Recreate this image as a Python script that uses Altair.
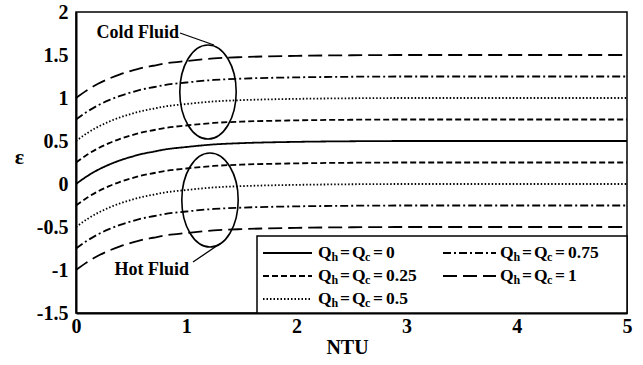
import altair as alt
import pandas as pd

# ---------------- data ----------------
ntu = [0.0, 0.1, 0.2, 0.3, 0.4, 0.5, 0.6, 0.7, 0.8, 1.0, 1.25, 1.5, 2.0, 2.5, 3.0, 4.0, 5.0]

eps_q0 = [0.0, 0.09, 0.165, 0.225, 0.275, 0.315, 0.35, 0.375, 0.40, 0.43, 0.46, 0.475, 0.49, 0.497, 0.5, 0.5, 0.5]

cold_025 = [0.25, 0.34, 0.415, 0.475, 0.525, 0.565, 0.60, 0.625, 0.65, 0.68, 0.71, 0.725, 0.74, 0.747, 0.75, 0.75, 0.75]
cold_05 = [0.5, 0.59, 0.665, 0.725, 0.775, 0.815, 0.85, 0.875, 0.90, 0.93, 0.96, 0.975, 0.99, 0.997, 1.0, 1.0, 1.0]
cold_075 = [0.75, 0.84, 0.915, 0.975, 1.025, 1.065, 1.10, 1.125, 1.15, 1.18, 1.21, 1.225, 1.24, 1.247, 1.25, 1.25, 1.25]
cold_1 = [1.0, 1.09, 1.165, 1.225, 1.275, 1.315, 1.35, 1.375, 1.40, 1.43, 1.46, 1.475, 1.49, 1.497, 1.5, 1.5, 1.5]

hot_025 = [-0.25, -0.16, -0.085, -0.025, 0.025, 0.065, 0.10, 0.125, 0.15, 0.18, 0.21, 0.225, 0.24, 0.247, 0.25, 0.25, 0.25]
hot_05 = [-0.5, -0.41, -0.335, -0.275, -0.225, -0.185, -0.15, -0.125, -0.10, -0.07, -0.04, -0.025, -0.01, -0.003, 0.0, 0.0, 0.0]
hot_075 = [-0.75, -0.66, -0.585, -0.525, -0.475, -0.435, -0.40, -0.375, -0.35, -0.32, -0.29, -0.275, -0.26, -0.253, -0.25, -0.25, -0.25]
hot_1 = [-1.0, -0.91, -0.835, -0.775, -0.725, -0.685, -0.65, -0.625, -0.60, -0.57, -0.54, -0.525, -0.51, -0.503, -0.5, -0.5, -0.5]

q_levels = ["0", "0.25", "0.5", "0.75", "1"]
dash_styles = [[1, 0], [6, 3], [1.5, 2], [8, 3, 2, 3], [14, 6]]
x_ticks = [0, 1, 2, 3, 4, 5]
y_ticks = [-1.5, -1, -0.5, 0, 0.5, 1, 1.5, 2]

FONT = "Liberation Serif"
TICK_SIZE = 20

# ---------------- layout helpers (plot area in pixels) ----------------
PX0, PW, PY0, PH = 76, 551, 12, 301
XMIN, XMAX, YMIN, YMAX = 0, 5, -1.5, 2


def dx(px):
    return XMIN + (px - PX0) / PW * (XMAX - XMIN)


def dy(py):
    return YMAX - (py - PY0) / PH * (YMAX - YMIN)


# ---------------- build tables ----------------
series_list = [
    ("q0", "0", eps_q0),
    ("c025", "0.25", cold_025), ("c05", "0.5", cold_05),
    ("c075", "0.75", cold_075), ("c1", "1", cold_1),
    ("h025", "0.25", hot_025), ("h05", "0.5", hot_05),
    ("h075", "0.75", hot_075), ("h1", "1", hot_1),
]
rows = []
for name, q, vals in series_list:
    for n, e in zip(ntu, vals):
        rows.append({"NTU": n, "eps": e, "series": name, "Q": q})
lines_df = pd.DataFrame(rows)

xscale = alt.Scale(domain=[XMIN, XMAX], nice=False, zero=False)
yscale = alt.Scale(domain=[YMIN, YMAX], nice=False, zero=False)

X = alt.X("NTU:Q", scale=xscale, axis=alt.Axis(
    values=x_ticks, title="NTU", labelFlush=False, labelPadding=3,
    labelFont=FONT, labelFontWeight="bold", labelFontSize=TICK_SIZE,
    titleFont=FONT, titleFontWeight="bold",
    titleX=271, titleY=34, titleBaseline="middle", titleAlign="center",
    titleFontSize=20))
Y = alt.Y("eps:Q", scale=yscale, axis=alt.Axis(
    values=y_ticks, title="ε", labelExpr="toString(datum.value)", labelPadding=8,
    labelFont=FONT, labelFontWeight="bold", labelFontSize=TICK_SIZE,
    titleFont=FONT, titleFontWeight="bold",
    titleAngle=0, titleX=-57, titleY=144, titleAlign="center",
    titleBaseline="middle", titleFontSize=22))
DASH = alt.StrokeDash("Q:N", scale=alt.Scale(domain=q_levels, range=dash_styles), legend=None)

lines = alt.Chart(lines_df).mark_line(color="black", strokeWidth=1.8, interpolate="monotone").encode(
    x=X, y=Y, strokeDash=DASH, detail="series:N")

# ellipses (annotation)
ell_df = pd.DataFrame({"NTU": [dx(208), dx(210)], "eps": [dy(92), dy(200)]})
ell_path = "M0,-1A0.6,1,0,1,1,0,1A0.6,1,0,1,1,0,-1Z"
ellipses = alt.Chart(ell_df).mark_point(
    shape=ell_path, size=94 * 94, filled=False, stroke="black", strokeWidth=1.6, opacity=1
).encode(x=X, y=Y)

# leader lines
lead_df = pd.DataFrame({
    "NTU": [dx(180), dx(193)], "eps": [dy(33), dy(262)],
    "NTU2": [dx(214), dx(221)], "eps2": [dy(45), dy(243)],
})
leaders = alt.Chart(lead_df).mark_rule(color="black", strokeWidth=1.3).encode(
    x=X, y=Y, x2="NTU2:Q", y2="eps2:Q")

ann_df = pd.DataFrame({"NTU": [dx(179), dx(189)], "eps": [dy(33), dy(270)],
                       "text": ["Cold Fluid", "Hot Fluid"]})
ann = alt.Chart(ann_df).mark_text(
    font=FONT, fontWeight="bold", fontSize=18, align="right", baseline="middle", color="black"
).encode(x=X, y=Y, text="text:N")

# legend box
box_df = pd.DataFrame({"NTU": [dx(257)], "eps": [dy(236)], "NTU2": [dx(627)], "eps2": [dy(313)]})
box = alt.Chart(box_df).mark_rect(fill="white", stroke="black", strokeWidth=1.5).encode(
    x=X, y=Y, x2="NTU2:Q", y2="eps2:Q")

# legend entries: (Q, line start px, line end px, text start px, row y px)
leg_entries = [
    ("0", 263, 312, 318, 253),
    ("0.25", 263, 312, 318, 276),
    ("0.5", 263, 312, 318, 299),
    ("0.75", 443, 496, 500, 253),
    ("1", 443, 496, 500, 276),
]
leg_lines_df = pd.DataFrame([
    {"Q": q, "NTU": dx(a), "NTU2": dx(b), "eps": dy(yy)} for q, a, b, t, yy in leg_entries])
leg_lines = alt.Chart(leg_lines_df).mark_rule(color="black", strokeWidth=2).encode(
    x=X, x2="NTU2:Q", y=Y, strokeDash=DASH)

main_rows, sub_rows = [], []
for q, a, b, t, yy in leg_entries:
    main_rows += [
        {"NTU": dx(t), "eps": dy(yy), "text": "Q"},
        {"NTU": dx(t + 22), "eps": dy(yy), "text": "="},
        {"NTU": dx(t + 34), "eps": dy(yy), "text": "Q"},
        {"NTU": dx(t + 55), "eps": dy(yy), "text": "="},
        {"NTU": dx(t + 68), "eps": dy(yy), "text": q},
    ]
    sub_rows += [
        {"NTU": dx(t + 13.5), "eps": dy(yy + 4), "text": "h"},
        {"NTU": dx(t + 47), "eps": dy(yy + 4), "text": "c"},
    ]
leg_main = alt.Chart(pd.DataFrame(main_rows)).mark_text(
    font=FONT, fontWeight="bold", fontSize=17.5, align="left", baseline="middle", color="black"
).encode(x=X, y=Y, text="text:N")
leg_sub = alt.Chart(pd.DataFrame(sub_rows)).mark_text(
    font=FONT, fontWeight="bold", fontSize=12, align="left", baseline="middle", color="black"
).encode(x=X, y=Y, text="text:N")

chart = alt.layer(
    lines, ellipses, leaders, ann, box, leg_lines, leg_main, leg_sub
).properties(
    width=PW, height=PH,
    autosize=alt.AutoSizeParams(type="none"),
    padding={"left": PX0, "top": PY0, "right": 643 - PX0 - PW, "bottom": 365 - PY0 - PH},
    background="white",
).configure(
    font=FONT
).configure_view(
    stroke="black", strokeWidth=1.5
).configure_axis(
    grid=False, ticks=False, domainColor="black", domainWidth=2,
    labelColor="black", titleColor="black",
    labelFont=FONT, labelFontWeight="bold", labelFontSize=TICK_SIZE,
)

chart.save("out.html", embed_options={"renderer": "svg", "actions": False})
